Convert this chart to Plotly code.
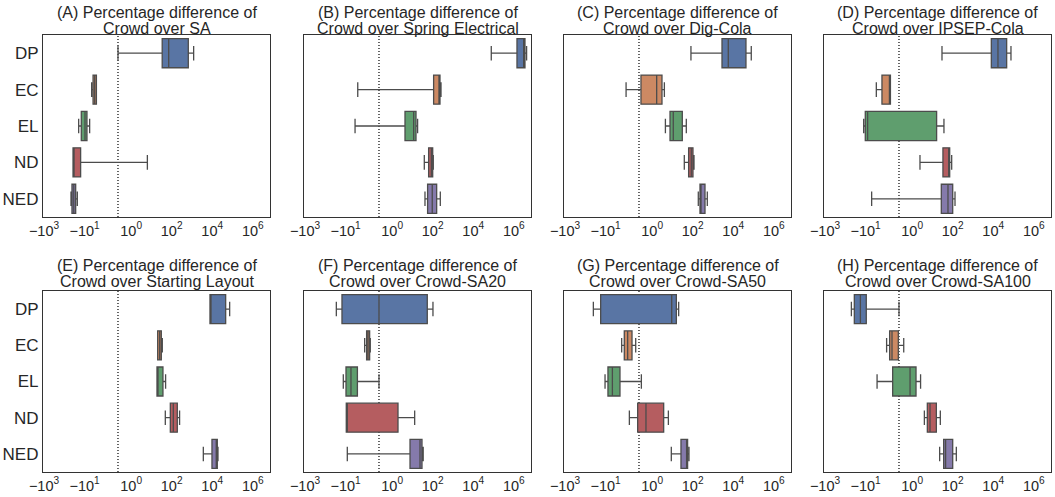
import numpy as np
import plotly.graph_objects as go

# ---------------- data ----------------
categories = ["DP", "EC", "EL", "ND", "NED"]
colors = ["#5975a4", "#cc8963", "#5f9e6e", "#b55d60", "#857aab"]

titles = [
    ("(A) Percentage difference of", "Crowd over SA"),
    ("(B) Percentage difference of", "Crowd over Spring Electrical"),
    ("(C) Percentage difference of", "Crowd over Dig-Cola"),
    ("(D) Percentage difference of", "Crowd over IPSEP-Cola"),
    ("(E) Percentage difference of", "Crowd over Starting Layout"),
    ("(F) Percentage difference of", "Crowd over Crowd-SA20"),
    ("(G) Percentage difference of", "Crowd over Crowd-SA50"),
    ("(H) Percentage difference of", "Crowd over Crowd-SA100"),
]

tick_values = [-1e3, -1e1, 1, 1e2, 1e4, 1e6]
tick_labels = ["\u221210<sup>3</sup>", "\u221210<sup>1</sup>", "10<sup>0</sup>",
               "10<sup>2</sup>", "10<sup>4</sup>", "10<sup>6</sup>"]

# per panel: lower whisker, q1, median, q3, upper whisker (order DP, EC, EL, ND, NED)
A_low = [0, -4.47, -19.5, -37, -46.6]
A_q1 = [34, -3.8, -14.5, -37, -41.7]
A_med = [71, -3.16, -9.5, -36, -34]
A_q3 = [659, -2.6, -7.6, -15.6, -27.4]
A_high = [1210, -2.6, -5.6, 6.3, -22.7]

B_low = [77600, -2.5, -3.4, 38.5, 41.6]
B_q1 = [1.44e6, 111, 4.3, 63, 56]
B_med = [3.07e6, 212, 11.5, 85.5, 95]
B_q3 = [3.57e6, 229, 15, 100, 157]
B_high = [4.3e6, 257, 18, 107, 237]

C_low = [82, -0.98, 4.5, 38.5, 189]
C_q1 = [2790, 0.15, 7.6, 63, 229]
C_med = [5700, 1.67, 11, 85, 257]
C_q3 = [42500, 3.05, 30.7, 103, 404]
C_high = [77600, 4.0, 48.4, 116, 526]

D_low = [29.6, -2.94, -12.4, 2.43, -5.0]
D_q1 = [8040, -1.55, -10.3, 33, 27.4]
D_med = [17100, -0.68, -7.9, 65.6, 58.5]
D_q3 = [46000, -0.65, 16.1, 71, 100]
D_high = [75000, -0.65, 37, 89, 130]

E_low = [7740, 20.3, 18.8, 48.4, 3630]
E_q1 = [7740, 20.3, 18.8, 85.5, 9700]
E_med = [7740, 25.5, 20.3, 120, 15800]
E_q3 = [46000, 30.7, 37, 189, 17800]
E_high = [72400, 34.4, 50, 245, 19200]

F_low = [-28.5, -1.14, -12.9, -9.2, -8.2]
F_q1 = [-15, -0.94, -9.5, -9.2, 7.6]
F_med = [0, -0.83, -5.4, -9.2, 23.6]
F_q3 = [54, -0.71, -2.6, 1.94, 29.6]
F_high = [103, -0.66, 0, 12.9, 34]

G_low = [-40, -1.6, -10.6, -0.73, 8.8]
G_q1 = [-17.4, -1.19, -7.6, -0.1, 26.4]
G_med = [9.2, -0.86, -4.6, 0.53, 54]
G_q3 = [15.6, -0.53, -1.94, 3.7, 56]
G_high = [20.3, -0.25, 0.18, 6.3, 65.6]

H_low = [-50, -0.94, -2.7, 4.0, 22.7]
H_q1 = [-35.8, -0.71, -0.48, 5.6, 35.8]
H_med = [-18, -0.53, 0.84, 7.6, 44.7]
H_q3 = [-9.2, -0.05, 1.55, 15.6, 100]
H_high = [0, 0.36, 2.6, 24.5, 151]

panels = [
    (A_low, A_q1, A_med, A_q3, A_high),
    (B_low, B_q1, B_med, B_q3, B_high),
    (C_low, C_q1, C_med, C_q3, C_high),
    (D_low, D_q1, D_med, D_q3, D_high),
    (E_low, E_q1, E_med, E_q3, E_high),
    (F_low, F_q1, F_med, F_q3, F_high),
    (G_low, G_q1, G_med, G_q3, G_high),
    (H_low, H_q1, H_med, H_q3, H_high),
]

# ---------------- symlog scale ----------------
LIN = 0.65  # width (in decades) of the linear part between 0 and 1


def symlog(v):
    v = np.asarray(v, dtype=float)
    a = np.abs(v)
    out = np.where(a <= 1, v * LIN, np.sign(v) * (LIN + np.log10(np.maximum(a, 1e-300))))
    return out


W, H = 1055, 497
col_px = [(43, 270), (304, 531), (564, 791), (824, 1051)]
row_px = [(35, 217), (291, 472)]
title_px = [(12.5, 28.5), (265.5, 281.5)]

fig = go.Figure()
layout = dict(
    width=W, height=H,
    margin=dict(l=0, r=0, t=0, b=0, autoexpand=False),
    paper_bgcolor="white", plot_bgcolor="white",
    showlegend=False,
    font=dict(family="Liberation Sans, Arial, sans-serif", color="#262626"),
)
annotations = []
shapes = []

for p, (low, q1, med, q3, high) in enumerate(panels):
    r, c = divmod(p, 4)
    n = p + 1
    xa = "x" if n == 1 else f"x{n}"
    ya = "y" if n == 1 else f"y{n}"
    for i, cat in enumerate(categories):
        fig.add_trace(go.Box(
            y=[cat], orientation="h",
            lowerfence=[float(symlog(low[i]))], q1=[float(symlog(q1[i]))],
            median=[float(symlog(med[i]))], q3=[float(symlog(q3[i]))],
            upperfence=[float(symlog(high[i]))],
            fillcolor=colors[i], line=dict(color="#4c4c4c", width=1.3),
            width=0.8, whiskerwidth=0.5, boxpoints=False,
            xaxis=xa, yaxis=ya, hoverinfo="skip", showlegend=False,
        ))
    x0, x1 = col_px[c]
    yt, yb = row_px[r]
    layout["xaxis" if n == 1 else f"xaxis{n}"] = dict(
        domain=[x0 / W, x1 / W], anchor=ya, range=[-3.7, 7.5], automargin=False,
        tickvals=[float(t) for t in symlog(tick_values)], ticktext=tick_labels,
        showgrid=False, zeroline=False, showline=True, mirror=True,
        linecolor="#333333", linewidth=1.2, ticks="",
        tickfont=dict(size=14.5, color="#262626"),
    )
    layout["yaxis" if n == 1 else f"yaxis{n}"] = dict(
        domain=[1 - yb / H, 1 - yt / H], anchor=xa, type="category", automargin=False,
        categoryorder="array", categoryarray=categories, range=[4.5, -0.5],
        showgrid=False, zeroline=False, showline=True, mirror=True,
        linecolor="#333333", linewidth=1.2, ticks="",
        showticklabels=(c == 0), tickfont=dict(size=17, color="#262626"),
    )
    shapes.append(dict(type="line", xref=xa, yref=f"{ya} domain", x0=0, x1=0, y0=0, y1=1,
                       line=dict(color="black", width=1.2, dash="1px,2px"), layer="below"))
    cx = (x0 + x1) / 2 / W
    for k, txt in enumerate(titles[p]):
        annotations.append(dict(text=txt, xref="paper", yref="paper", x=cx,
                                y=1 - title_px[r][k] / H, xanchor="center", yanchor="middle",
                                showarrow=False, font=dict(size=16, color="#262626")))

layout["annotations"] = annotations
layout["shapes"] = shapes
fig.update_layout(**layout)
fig.write_html("out.html", config={"displayModeBar": False},
               post_script="document.body.style.margin='0px';document.body.style.overflow='hidden';")
